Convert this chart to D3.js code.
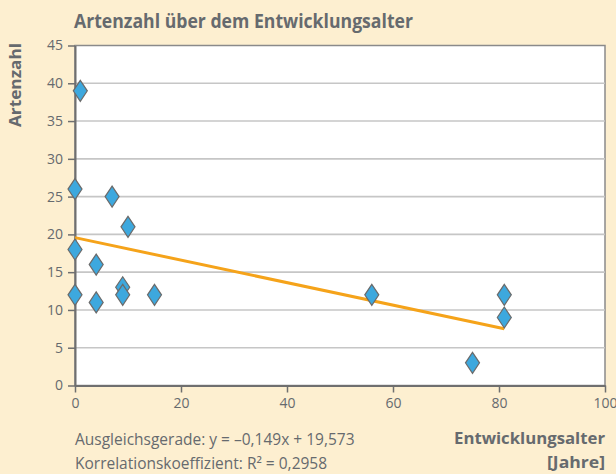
<!DOCTYPE html>
<html><head><meta charset="utf-8">
<script src="https://cdn.jsdelivr.net/npm/d3@7"></script>
<style>
html,body{margin:0;padding:0;background:#fdefd0;}
svg{display:block;font-family:"Open Sans",sans-serif;}
</style></head>
<body>
<svg id="c" width="616" height="474"></svg>
<script>
const xValues = [1, 0, 7, 10, 0, 4, 0, 4, 9, 9, 15, 56, 81, 81, 75];
const yValues = [39, 26, 25, 21, 18, 16, 12, 11, 13, 12, 12, 12, 12, 9, 3];
const xTicks = [0, 20, 40, 60, 80, 100];
const yTicks = [0, 5, 10, 15, 20, 25, 30, 35, 40, 45];
const trendSlope = -0.149, trendIntercept = 19.573;
const trendRange = [0, 81];
const title = "Artenzahl über dem Entwicklungsalter";
const yLabel = "Artenzahl";
const xLabel = ["Entwicklungsalter", "[Jahre]"];
const notes = ["Ausgleichsgerade: y = –0,149x + 19,573", "Korrelationskoeffizient: R² = 0,2958"];

const svg = d3.select("#c");
const L = 75, R = 605, T = 45.5, B = 385.5;
const x = d3.scaleLinear().domain([0, 100]).range([L, R]);
const y = d3.scaleLinear().domain([0, 45]).range([B, T]);
const txt = "#666a6e";

svg.append("rect").attr("width", 616).attr("height", 474).attr("fill", "#fdefd0");
svg.append("rect").attr("x", L).attr("y", T).attr("width", R - L).attr("height", B - T)
  .attr("fill", "#ffffff").attr("stroke", "#8a8a8a").attr("stroke-width", 1.5);

// gridlines
svg.append("g").selectAll("line").data(yTicks.filter(d => d > 0 && d < 45)).join("line")
  .attr("x1", L).attr("x2", R).attr("y1", d => y(d)).attr("y2", d => y(d))
  .attr("stroke", "#c6c6c6").attr("stroke-width", 1.6);

// axes
const yAxis = svg.append("g").attr("transform", `translate(${L},0)`)
  .call(d3.axisLeft(y).tickValues(yTicks).tickSize(7).tickPadding(5).tickSizeOuter(0));
const xAxis = svg.append("g").attr("transform", `translate(0,${B})`)
  .call(d3.axisBottom(x).tickValues(xTicks).tickSize(7).tickPadding(6).tickSizeOuter(0));
[yAxis, xAxis].forEach(a => {
  a.select(".domain").attr("stroke", "#6f6f6f").attr("stroke-width", 2);
  a.selectAll(".tick line").attr("stroke", "#6f6f6f").attr("stroke-width", 1.5);
  a.selectAll("text").attr("fill", txt).attr("font-size", 14).attr("font-family", "Open Sans");
});

// trend line
svg.append("line")
  .attr("x1", x(trendRange[0])).attr("y1", y(trendIntercept + trendSlope * trendRange[0]))
  .attr("x2", x(trendRange[1])).attr("y2", y(trendIntercept + trendSlope * trendRange[1]))
  .attr("stroke", "#f5a31a").attr("stroke-width", 3);

// diamonds
const pts = xValues.map((v, i) => [v, yValues[i]]);
const hw = 7, hh = 10.5;
svg.append("g").selectAll("path").data(pts).join("path")
  .attr("d", d => {
    const cx = x(d[0]), cy = y(d[1]);
    return `M${cx},${cy - hh}L${cx + hw},${cy}L${cx},${cy + hh}L${cx - hw},${cy}Z`;
  })
  .attr("fill", "#3da8de").attr("stroke", "#6b6b6b").attr("stroke-width", 1.2);

// title
svg.append("text").attr("x", 74).attr("y", 28).attr("fill", txt)
  .attr("font-size", 20).attr("font-weight", "bold").attr("textLength", 339)
  .attr("lengthAdjust", "spacingAndGlyphs").text(title);

// y label
svg.append("text").attr("transform", "translate(21,85) rotate(-90)")
  .attr("text-anchor", "middle").attr("fill", txt).attr("font-size", 16)
  .attr("font-weight", "bold").attr("textLength", 84)
  .attr("lengthAdjust", "spacingAndGlyphs").text(yLabel);

// x label
const xlW = [151, 58];
xLabel.forEach((t, i) => {
  svg.append("text").attr("x", 605).attr("y", 444 + i * 24).attr("text-anchor", "end")
    .attr("fill", txt).attr("font-size", 16).attr("font-weight", "bold")
    .attr("textLength", xlW[i]).attr("lengthAdjust", "spacingAndGlyphs").text(t);
});

// notes
notes.forEach((t, i) => {
  svg.append("text").attr("x", 75).attr("y", 445 + i * 24)
    .attr("fill", txt).attr("font-size", 15.5).text(t);
});
</script>
</body></html>
